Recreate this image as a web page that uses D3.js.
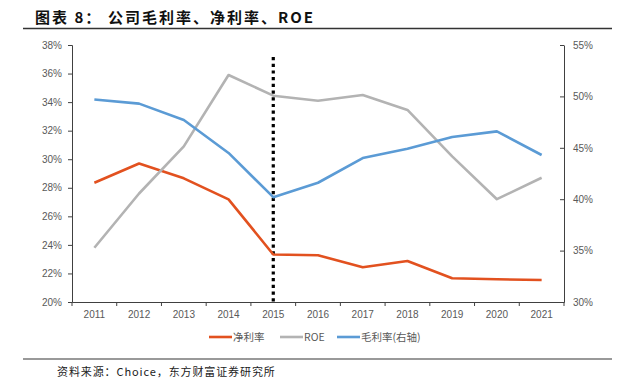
<!DOCTYPE html>
<html>
<head>
<meta charset="utf-8">
<script src="https://cdn.jsdelivr.net/npm/d3@7"></script>
<style>
  body { margin: 0; background: #fff; }
  svg { display: block; }
  .tick text { font-family: "Liberation Sans", Arial, sans-serif; font-size: 10px; fill: #595959; }
</style>
</head>
<body>
<div id="chart"></div>
<script>
  // chart data
  var years = ['2011','2012','2013','2014','2015','2016','2017','2018','2019','2020','2021'];
  var netMargin = [28.35, 29.7, 28.66, 27.19, 23.33, 23.27, 22.43, 22.87, 21.66, 21.59, 21.54];
  var roe = [23.8, 27.6, 30.9, 35.9, 34.45, 34.1, 34.5, 33.45, 30.2, 27.2, 28.7];
  var grossMargin = [49.7, 49.3, 47.7, 44.5, 40.2, 41.6, 44.0, 44.9, 46.05, 46.6, 44.3];
  var leftTicks = [20, 22, 24, 26, 28, 30, 32, 34, 36, 38];
  var rightTicks = [30, 35, 40, 45, 50, 55];
  var markYear = '2015';

  var W = 620, H = 389;
  var margin = {top: 45, right: 56, bottom: 87, left: 72};
  var width = W - margin.left - margin.right;
  var height = H - margin.top - margin.bottom;

  var svg = d3.select("#chart").append("svg")
        .attr("width", W)
        .attr("height", H);

  // title + rule
  var titleFont = '"Noto Sans CJK SC", sans-serif';
  svg.append("text")
    .attr("x", 35).attr("y", 23)
    .style("font-family", titleFont)
    .style("font-size", "15px")
    .style("font-weight", "bold")
    .style("letter-spacing", "2px")
    .style("fill", "#111")
    .text("图表 8：");
  svg.append("text")
    .attr("x", 108).attr("y", 23)
    .style("font-family", titleFont)
    .style("font-size", "15px")
    .style("font-weight", "bold")
    .style("letter-spacing", "2px")
    .style("fill", "#111")
    .text("公司毛利率、净利率、ROE");
  svg.append("line")
    .attr("x1", 23).attr("x2", 612).attr("y1", 28.5).attr("y2", 28.5)
    .attr("stroke", "#333").attr("stroke-width", 1.5);

  var g = svg.append("g")
        .attr("transform", "translate(" + margin.left + "," + margin.top + ")");

  var x = d3.scaleBand().domain(years).range([0, width]);
  var yL = d3.scaleLinear().domain([20, 38]).range([height, 0]);
  var yR = d3.scaleLinear().domain([30, 55]).range([height, 0]);

  // x axis, ticks at band edges
  var xAxis = g.append("g")
        .attr("transform", "translate(0," + height + ")")
        .call(d3.axisBottom(x).tickSize(0).tickPadding(9));
  xAxis.select(".domain").attr("stroke", "#404040");
  var edges = d3.range(years.length + 1).map(function (i) { return i * x.bandwidth(); });
  xAxis.selectAll(".edge").data(edges).enter().append("line")
    .attr("class", "edge")
    .attr("x1", function (d) { return d; }).attr("x2", function (d) { return d; })
    .attr("y1", 0).attr("y2", 4)
    .attr("stroke", "#404040");

  var leftAxis = g.append("g")
        .call(d3.axisLeft(yL).tickValues(leftTicks).tickSize(4).tickPadding(6)
          .tickFormat(function (d) { return d + "%"; }));
  leftAxis.selectAll("line, .domain").attr("stroke", "#404040");

  var rightAxis = g.append("g")
        .attr("transform", "translate(" + width + ",0)")
        .call(d3.axisRight(yR).tickValues(rightTicks).tickSizeInner(-4).tickSizeOuter(0).tickPadding(9)
          .tickFormat(function (d) { return d + "%"; }));
  rightAxis.selectAll("line, .domain").attr("stroke", "#404040");

  var cx = function (d, i) { return x(years[i]) + x.bandwidth() / 2; };

  // dotted marker line at 2015
  g.append("line")
    .attr("x1", x(markYear) + x.bandwidth() / 2)
    .attr("x2", x(markYear) + x.bandwidth() / 2)
    .attr("y1", 12).attr("y2", height)
    .attr("stroke", "#000")
    .attr("stroke-width", 3.2)
    .attr("stroke-dasharray", "3.2,3.5");

  var series = [
    {name: "净利率", values: netMargin, scale: yL, color: "#E2511F"},
    {name: "ROE", values: roe, scale: yL, color: "#B3B3B3"},
    {name: "毛利率(右轴)", values: grossMargin, scale: yR, color: "#5B9BD5"}
  ];

  series.forEach(function (s) {
    var line = d3.line()
          .x(cx)
          .y(function (d) { return s.scale(d); });
    g.append("path")
      .datum(s.values)
      .attr("fill", "none")
      .attr("stroke", s.color)
      .attr("stroke-width", 2.6)
      .attr("stroke-linejoin", "round")
      .attr("d", line);
  });

  // legend
  var legendX = [209, 280, 337];
  var legend = svg.selectAll(".legend").data(series).enter().append("g")
        .attr("class", "legend")
        .attr("transform", function (d, i) { return "translate(" + legendX[i] + ",337)"; });
  legend.append("line")
    .attr("x1", 0).attr("x2", 23)
    .attr("stroke", function (d) { return d.color; })
    .attr("stroke-width", 2.6);
  legend.append("text")
    .attr("x", 24).attr("y", 4)
    .style("font-family", '"Noto Sans CJK SC", sans-serif')
    .style("font-size", "10.5px")
    .style("fill", "#595959")
    .text(function (d) { return d.name; });

  // source
  svg.append("line")
    .attr("x1", 23).attr("x2", 612).attr("y1", 359).attr("y2", 359)
    .attr("stroke", "#999").attr("stroke-width", 2);
  svg.append("text")
    .attr("x", 57).attr("y", 376)
    .style("font-family", '"Noto Sans CJK SC", sans-serif')
    .style("font-size", "11px")
    .style("letter-spacing", "0.9px")
    .style("fill", "#222")
    .text("资料来源：Choice，东方财富证券研究所");
</script>
</body>
</html>
